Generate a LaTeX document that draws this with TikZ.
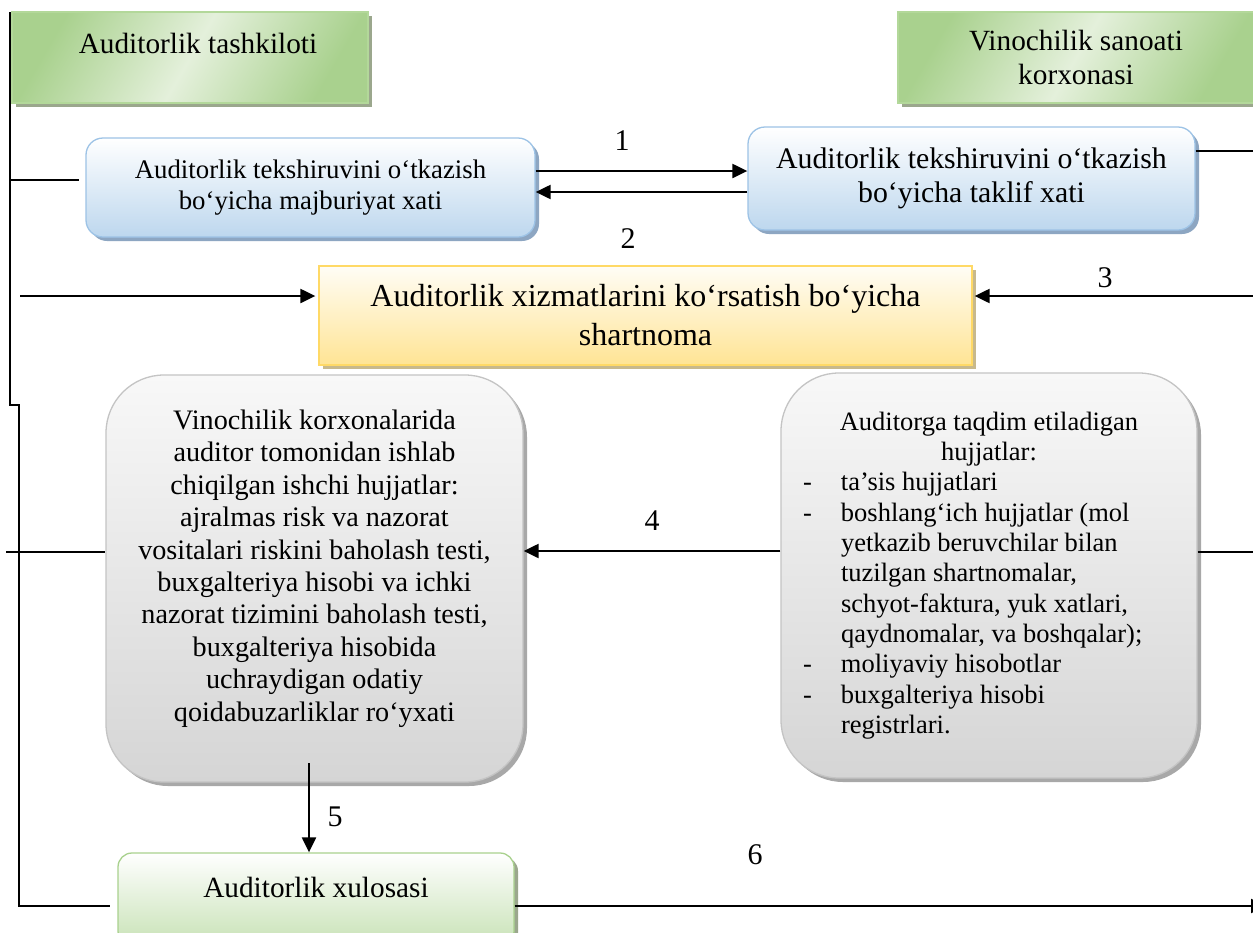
\documentclass[tikz,border=0pt]{standalone}
\usepackage{fontspec}
\setmainfont{Liberation Serif}
\usetikzlibrary{arrows.meta,shadows,calc}

\definecolor{gDark}{HTML}{A9D18E}
\definecolor{gLight}{HTML}{E4F0DB}
\definecolor{gBorder}{HTML}{B3D89A}
\definecolor{gShadow}{HTML}{9BA78D}
\definecolor{bBottom}{HTML}{BDD7EE}
\definecolor{bBorder}{HTML}{9DC3E6}
\definecolor{bShadow}{HTML}{8DA6C2}
\definecolor{yTop}{HTML}{FFFDF6}
\definecolor{yBottom}{HTML}{FFE494}
\definecolor{yBorder}{HTML}{FFD966}
\definecolor{yShadow}{HTML}{C8B98C}
\definecolor{grTop}{HTML}{F8F8F8}
\definecolor{grBottom}{HTML}{D5D5D5}
\definecolor{grBorder}{HTML}{C4C4C4}
\definecolor{grShadow}{HTML}{A8A8A8}
\definecolor{xBottom}{HTML}{C8E2B6}
\definecolor{xBorder}{HTML}{A9D18E}

\newcommand\fsTitle{\fontsize{29.3}{33.5}\selectfont}
\newcommand\fsMajb{\fontsize{26.8}{31}\selectfont}
\newcommand\fsTaklif{\fontsize{29.8}{34.5}\selectfont}
\newcommand\fsYel{\fontsize{32}{39}\selectfont}
\newcommand\fsLeft{\fontsize{28.2}{32.4}\selectfont}
\newcommand\fsRight{\fontsize{26.5}{30.3}\selectfont}
\newcommand\fsNum{\fontsize{30}{34}\selectfont}

\begin{document}
\begin{tikzpicture}[x=1pt,y=-1pt,
  box/.style={inner sep=0pt, align=center, line width=1.3pt},
  shad/.style={drop shadow={shadow xshift=4pt, shadow yshift=-4pt, fill=#1, opacity=1}},
  titlebox/.style={box, draw=gBorder, left color=gDark, right color=gDark, middle color=gLight, shading angle=60, shad=gShadow, font=\fsTitle},
  bluebox/.style={box, rounded corners=17pt, draw=bBorder, top color=white, bottom color=bBottom, shad=bShadow},
  yelbox/.style={box, draw=yBorder, top color=yTop, bottom color=yBottom, shad=yShadow, font=\fsYel},
  graybox/.style={box, rounded corners=58pt, draw=grBorder, top color=grTop, bottom color=grBottom, shad=grShadow},
  xulbox/.style={box, rounded corners=14pt, draw=xBorder, top color=white, bottom color=xBottom, shad=gShadow, font=\fsTitle},
  ln/.style={line width=2.2pt, black},
  arr/.style={ln, -{Triangle[length=15pt,width=14pt]}},
  num/.style={font=\fsNum, inner sep=0pt}
]
\useasboundingbox (0,0) rectangle (1253,932);
\clip (0,0) rectangle (1253,932);
\fill[white] (0,0) rectangle (1253,932);

% boxes
\node[titlebox, minimum width=356, minimum height=91, text height=20pt, text depth=29pt] (tash) at (190,57.5) {\hspace*{16pt}Auditorlik tashkiloti};
\node[titlebox, minimum width=356, minimum height=91] (vino) at (1076,57.5) {Vinochilik sanoati\\korxonasi};
\node[bluebox, minimum width=449, minimum height=99, font=\fsMajb] (majb) at (310.5,187.5) {Auditorlik tekshiruvini o‘tkazish\\bo‘yicha majburiyat xati};
\node[bluebox, minimum width=447, minimum height=103, font=\fsTaklif] (taklif) at (971.5,178.5) {Auditorlik tekshiruvini o‘tkazish\\bo‘yicha taklif xati};
\node[yelbox, minimum width=653, minimum height=99] (yel) at (645.5,315.5) {Auditorlik xizmatlarini ko‘rsatish bo‘yicha\\shartnoma};
\node[graybox, minimum width=417, minimum height=407, font=\fsLeft] (lgray) at (314.5,578.5) {Vinochilik korxonalarida\\auditor tomonidan ishlab\\chiqilgan ishchi hujjatlar:\\ajralmas risk va nazorat\\vositalari riskini baholash testi,\\buxgalteriya hisobi va ichki\\nazorat tizimini baholash testi,\\buxgalteriya hisobida\\uchraydigan odatiy\\qoidabuzarliklar ro‘yxati\\[-16pt]\strut};
\node[graybox, minimum width=416, minimum height=405, font=\fsRight] (rgray) at (989,575.5) {\parbox{372pt}{\centering Auditorga taqdim etiladigan\\hujjatlar:\par
\raggedright
\makebox[38pt][l]{-}ta’sis hujjatlari\\
\makebox[38pt][l]{-}boshlang‘ich hujjatlar (mol\\
\hspace*{38pt}yetkazib beruvchilar bilan\\
\hspace*{38pt}tuzilgan shartnomalar,\\
\hspace*{38pt}schyot-faktura, yuk xatlari,\\
\hspace*{38pt}qaydnomalar, va boshqalar);\\
\makebox[38pt][l]{-}moliyaviy hisobotlar\\
\makebox[38pt][l]{-}buxgalteriya hisobi\\
\hspace*{38pt}registrlari.}};
\node[xulbox, minimum width=396, minimum height=92, text height=20pt, text depth=24pt] (xul) at (316,899) {Auditorlik xulosasi};

% coordinates
\coordinate (busTop) at (10,12);
\coordinate (busStep) at (10,405);
\coordinate (busBot) at (19,906);
\coordinate (b1) at (10,180);
\coordinate (b2) at (20,296);
\coordinate (b3) at (6,552);
\coordinate (r1) at (1253,151);
\coordinate (r2) at (1253,296);
\coordinate (r3) at (1253,552);
\coordinate (m1) at (640,171);
\coordinate (m2) at (640,192);
\coordinate (m4) at (650,551);
\coordinate (s5) at (309,763);
\coordinate (r6) at (1266,906);

% connectors
\draw[ln, shorten >=7pt] (busTop) -- (busStep) -| (busBot) -- (busBot -| xul.west);
\draw[ln, shorten >=6pt] (b1) -- (b1 -| majb.west);
\draw[arr, shorten >=3pt] (b2) -- (b2 -| yel.west);
\draw[ln] (b3) -- (b3 -| lgray.west);
\draw[ln] (r1 -| taklif.east) -- (r1);
\draw[arr, shorten >=2pt] (r2) -- (r2 -| yel.east);
\draw[ln] (r3 -| rgray.east) -- (r3);
\draw[arr] (m1 -| majb.east) -- (m1 -| taklif.west);
\draw[arr] (m2 -| taklif.west) -- (m2 -| majb.east);
\draw[arr] (m4 -| rgray.west) -- (m4 -| lgray.east);
\draw[arr] (s5) -- (s5 |- xul.north);
\draw[arr] (r6 -| xul.east) -- (r6);

% labels
\node[num] (n1) at (622,141) {1};
\node[num] (n2) at (628,239) {2};
\node[num] (n3) at (1105,278) {3};
\node[num] (n4) at (652,521) {4};
\node[num] (n5) at (335,817) {5};
\node[num] (n6) at (755,855) {6};
\end{tikzpicture}
\end{document}
